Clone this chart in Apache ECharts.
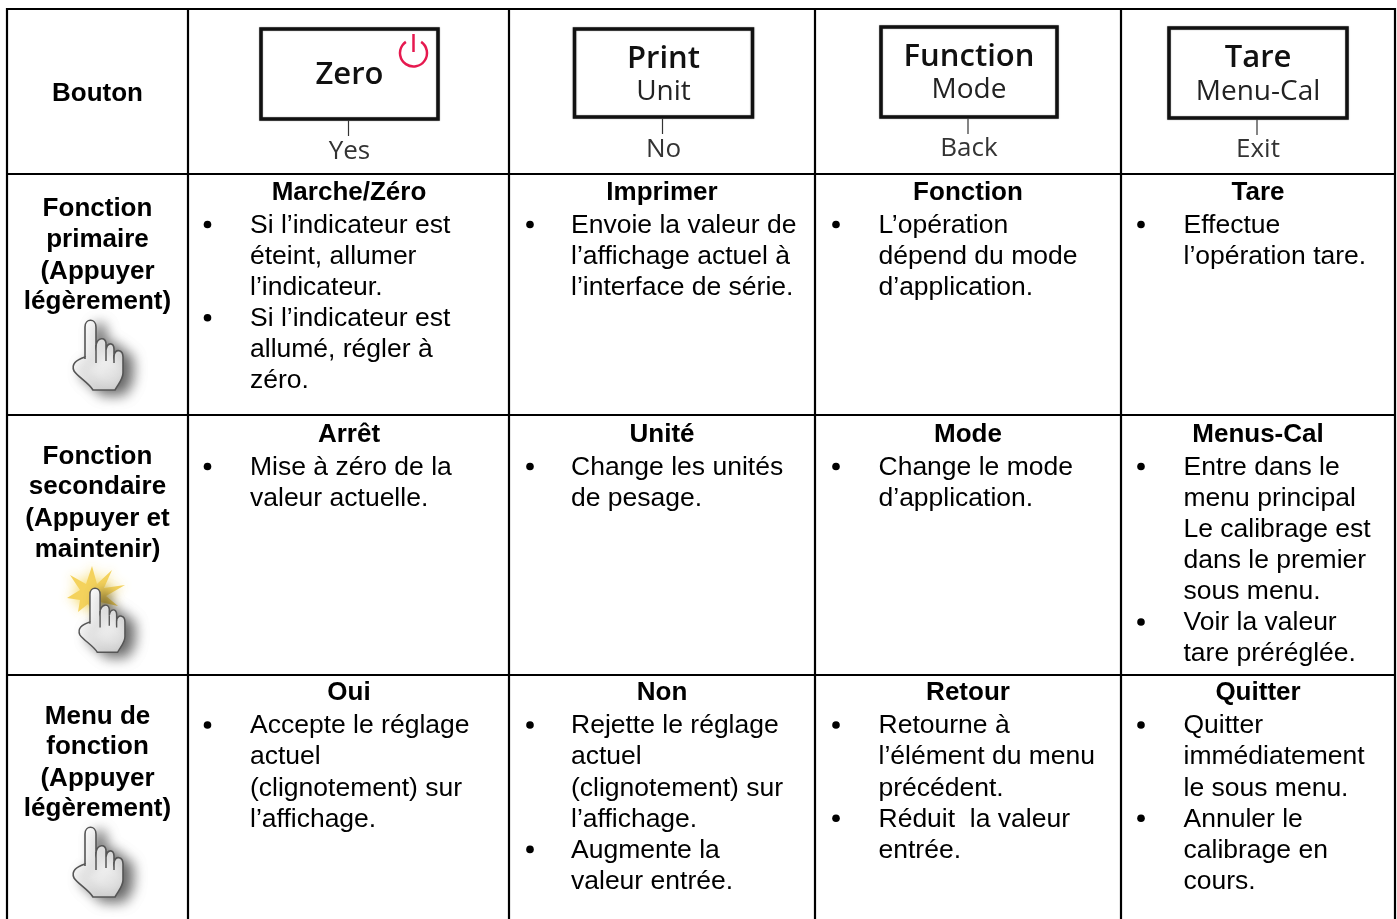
<!DOCTYPE html>
<html><head><meta charset="utf-8">
<style>html,body{margin:0;padding:0;background:#fff}#c{width:1397px;height:919px}</style>
<script src="https://cdn.jsdelivr.net/npm/echarts@6/dist/echarts.min.js"></script>
</head><body><div id="c"></div>
<script>
const rowHeaders = [["Bouton"],["Fonction","primaire","(Appuyer","légèrement)"],["Fonction","secondaire","(Appuyer et","maintenir)"],["Menu de","fonction","(Appuyer","légèrement)"]];
const buttonMain = ["Zero","Print","Function","Tare"];
const buttonSub = ["","Unit","Mode","Menu-Cal"];
const buttonLink = ["Yes","No","Back","Exit"];
const headingsPrimary = ["Marche/Zéro","Imprimer","Fonction","Tare"];
const headingsSecondary = ["Arrêt","Unité","Mode","Menus-Cal"];
const headingsMenu = ["Oui","Non","Retour","Quitter"];
const bulletsPrimary = [
 [["Si l’indicateur est","éteint, allumer","l’indicateur."],["Si l’indicateur est","allumé, régler à","zéro."]],
 [["Envoie la valeur de","l’affichage actuel à","l’interface de série."]],
 [["L’opération","dépend du mode","d’application."]],
 [["Effectue","l’opération tare."]]
];
const bulletsSecondary = [
 [["Mise à zéro de la","valeur actuelle."]],
 [["Change les unités","de pesage."]],
 [["Change le mode","d’application."]],
 [["Entre dans le","menu principal","Le calibrage est","dans le premier","sous menu."],["Voir la valeur","tare préréglée."]]
];
const bulletsMenu = [
 [["Accepte le réglage","actuel","(clignotement) sur","l’affichage."]],
 [["Rejette le réglage","actuel","(clignotement) sur","l’affichage."],["Augmente la","valeur entrée."]],
 [["Retourne à","l’élément du menu","précédent."],["Réduit  la valeur","entrée."]],
 [["Quitter","immédiatement","le sous menu."],["Annuler le","calibrage en","cours."]]
];

// layout
const colX=[7,188,509,815,1121,1395], rowY=[9,174,415,675], bottomY=919;
const FS=26, FSR=26.5, PITCH=31.1, FONT='"Liberation Sans",Arial,sans-serif', BTN='"Open Sans",sans-serif', DY=2;
const textX=[250,571,878.5,1183.5], bulletX=[207.5,530,836,1141], headX=[349,662,968,1258];
const boxes=[[261,29,177,90],[574.5,29,178,88],[881,27,176,90],[1169,28,178,90]];
const g=[];
function txt(x,y,s,o){g.push({type:'text',x,y:y+DY,silent:true,style:Object.assign({text:s,x:0,y:0,fill:'#000',font:`${FSR}px ${FONT}`,align:'left',verticalAlign:'middle'},o||{})});}
function line(x1,y1,x2,y2,w,c){g.push({type:'line',silent:true,shape:{x1,y1,x2,y2},style:{stroke:c||'#000',lineWidth:w}});}

// grid
rowY.forEach(y=>line(colX[0]-1,y,colX[5]+1,y,2.2));
colX.forEach(x=>line(x,rowY[0]-1,x,bottomY,2.2));

// row headers
const headCentre=[[92],[207,238,270,300],[455,485,517,548],[715,745,777,807]];
rowHeaders.forEach((r,i)=>r.forEach((s,j)=>txt(97.5,headCentre[i][j],s,{font:`bold ${FS}px ${FONT}`,align:'center'})));

// buttons
const mainY=[73,57,55,56], subY=[0,90,88,90], linkY=[150,148,147,148];
boxes.forEach((b,i)=>{
  g.push({type:'rect',silent:true,shape:{x:b[0],y:b[1],width:b[2],height:b[3]},style:{fill:'#fff',stroke:'#111',lineWidth:3.5,shadowBlur:1.5,shadowColor:'rgba(0,0,0,.4)'}});
  const cx=b[0]+b[2]/2;
  txt(cx,mainY[i],buttonMain[i],{font:`600 31px ${BTN}`,align:'center',fill:'#111'});
  if(buttonSub[i]) txt(cx,subY[i],buttonSub[i],{font:`400 28px ${BTN}`,align:'center',fill:'#222'});
  line(cx-1,b[1]+b[3]+1,cx-1,b[1]+b[3]+17,1.2,'#333');
  txt(cx,linkY[i],buttonLink[i],{font:`400 26px ${BTN}`,align:'center',fill:'#333'});
});
// power icon
g.push({type:'arc',silent:true,shape:{cx:413.5,cy:53,r:13.5,startAngle:-Math.PI/2+0.6,endAngle:-Math.PI/2-0.6,clockwise:true},style:{stroke:'#e6194f',fill:null,lineWidth:2.5}});
line(413.5,34,413.5,52,2.5,'#e6194f');

// cells
function cells(heads,bullets,headY,firstY){
  heads.forEach((h,i)=>{
    txt(headX[i],headY,h,{font:`bold ${FS}px ${FONT}`,align:'center'});
    let n=0;
    bullets[i].forEach(b=>{
      g.push({type:'circle',silent:true,shape:{cx:bulletX[i],cy:firstY+1+n*PITCH,r:3.8},style:{fill:'#000'}});
      b.forEach(s=>{txt(textX[i],firstY+n*PITCH,s);n++;});
    });
  });
}
cells(headingsPrimary,bulletsPrimary,191,223.5);
cells(headingsSecondary,bulletsSecondary,433,465.5);
cells(headingsMenu,bulletsMenu,691,724);

// hands
const handPath='M13,40 L13,8 C13,-1 24,-1 24,8 L24,26 C26,18 33,18 34,24 L34,31 C35,23 42,23 42,30 L42,36 C44,29 51,31 51,38 L51,54 C51,60 47,64 43,71 L21,71 C17,64 6,58 2,52 C-1,45 4,41 13,38 Z';
const innerPath='M24,26 L24,44 M34,31 L34,42 M42,36 L42,44';
const starPath='M92,566 L97,584 L112,570 L104,588 L125,585 L106,596 L118,606 L100,602 L96,618 L88,604 L78,612 L80,600 L67,598 L80,590 L70,575 L86,584 Z';
echarts.graphic.registerShape('handOutline',echarts.graphic.extendPath(handPath,{}));
echarts.graphic.registerShape('handInner',echarts.graphic.extendPath(innerPath,{}));
echarts.graphic.registerShape('burst',echarts.graphic.extendPath(starPath,{}));
function hand(x,y,s){
  g.push({type:'handOutline',silent:true,x,y,scaleX:s,scaleY:s,shape:{},
    style:{fill:{type:'linear',x:0,y:0,x2:1,y2:1,colorStops:[{offset:0,color:'#fff'},{offset:.6,color:'#f2f2f2'},{offset:1,color:'#cfcfcf'}]},stroke:'#555',lineWidth:1.6,shadowBlur:13,shadowColor:'rgba(0,0,0,.6)',shadowOffsetX:9,shadowOffsetY:4}});
  g.push({type:'handInner',silent:true,x,y,scaleX:s,scaleY:s,shape:{},style:{fill:null,stroke:'#555',lineWidth:1.5}});
}
hand(72,319,1);
g.push({type:'burst',silent:true,shape:{},style:{fill:'#f4d25c',shadowBlur:12,shadowColor:'rgba(245,215,90,.9)'}});
hand(78,587,.92);
hand(72,826,1);

const chart=echarts.init(document.getElementById('c'),null,{renderer:'canvas'});
chart.setOption({animation:false,backgroundColor:'#fff',graphic:{elements:g}});
</script></body></html>
